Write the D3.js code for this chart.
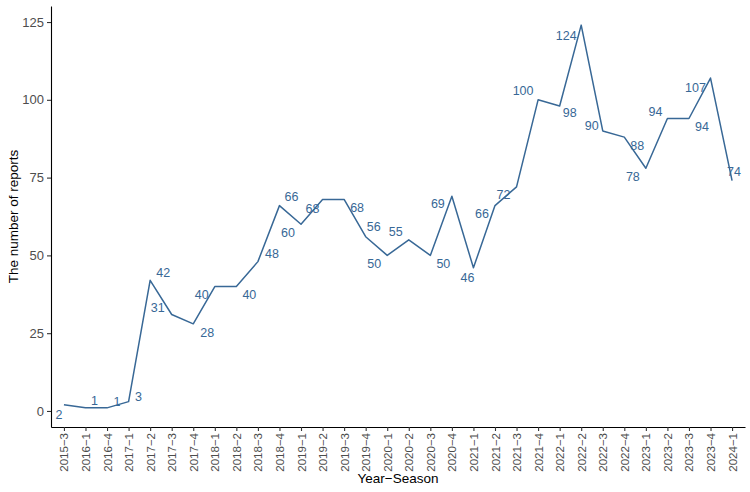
<!DOCTYPE html>
<html lang="en">
<head>
  <meta charset="UTF-8">
  <title>Reports by Year-Season</title>
  <style>
    body {
      margin: 0;
      padding: 0;
      background: #fff;
      font-family: 'Liberation Sans', Arial, sans-serif;
    }
  </style>
</head>
<body>

<script src="https://d3js.org/d3.v7.min.js"></script>

<script>
  // Categories (x axis)
  const seasons = [
    '2015-3', '2016-1', '2016-4', '2017-1', '2017-2', '2017-3', '2017-4', '2018-1',
    '2018-2', '2018-3', '2018-4', '2019-1', '2019-2', '2019-3', '2019-4', '2020-1',
    '2020-2', '2020-3', '2020-4', '2021-1', '2021-2', '2021-3', '2021-4', '2022-1',
    '2022-2', '2022-3', '2022-4', '2023-1', '2023-2', '2023-3', '2023-4', '2024-1'
  ];

  // Number of reports per season
  const reports = [
    2, 1, 1, 3, 42, 31, 28, 40,
    40, 48, 66, 60, 68, 68, 56, 50,
    55, 50, 69, 46, 66, 72, 100, 98,
    124, 90, 88, 78, 94, 94, 107, 74
  ];

  // Y tick values
  const yTicks = [0, 25, 50, 75, 100, 125];

  // Where each value label sits relative to its point (repel-like nudges)
  const labelNudge = [
    [-5, 10], [9, -7], [10, -6], [10, -5], [13, -8], [-14, -7], [14, 9], [-13, 8],
    [13, 8], [14, -8], [12, -9], [-13, 8], [-10, 9], [13, 8], [8, -10], [-13, 8],
    [-13, -8], [13, 8], [-14, 7], [-6, 10], [-13, 8], [-13, 8], [-15, -9], [10, 7],
    [-15, 10], [-11, -5], [13, 8], [-13, 8], [-12, -7], [13, 8], [-15, 10], [2, -9]
  ];

  const width = 750, height = 492;
  const mLeft = 51, mRight = 745, mTop = 6, mBottom = 427;
  const lineColor = '#386896';

  const svg = d3.select('body').append('svg')
    .attr('width', width)
    .attr('height', height);

  // ggplot-style discrete expansion of 0.6 on each side
  const x = d3.scaleLinear()
    .domain([0.4, seasons.length + 0.6])
    .range([mLeft, mRight]);

  const yMin = d3.min(reports), yMax = d3.max(reports);
  const pad = (yMax - yMin) * 0.05;
  const y = d3.scaleLinear()
    .domain([yMin - pad, yMax + pad])
    .range([mBottom, mTop]);

  const data = seasons.map((s, i) => ({ season: s, value: reports[i], idx: i + 1 }));

  // Y axis
  const yAxis = svg.append('g')
    .attr('transform', `translate(${mLeft},0)`)
    .call(d3.axisLeft(y).tickValues(yTicks).tickSize(4).tickPadding(3).tickSizeOuter(0));
  yAxis.select('.domain').attr('stroke', '#000').attr('stroke-width', 1.1);
  yAxis.selectAll('.tick line').attr('stroke', '#333').attr('stroke-width', 1.1);
  yAxis.selectAll('.tick text')
    .attr('fill', '#4d4d4d')
    .style('font-size', '13px')
    .style('font-family', "'Liberation Sans', Arial, sans-serif");

  // X axis
  const xAxis = svg.append('g')
    .attr('transform', `translate(0,${mBottom})`)
    .call(d3.axisBottom(x)
      .tickValues(data.map(d => d.idx))
      .tickFormat(i => seasons[i - 1].replace('-', '\u2212'))
      .tickSize(4).tickSizeOuter(0));
  xAxis.select('.domain').attr('stroke', '#000').attr('stroke-width', 1.1);
  xAxis.selectAll('.tick line').attr('stroke', '#333').attr('stroke-width', 1.1);
  xAxis.selectAll('.tick text')
    .attr('fill', '#4d4d4d')
    .style('font-size', '11.5px')
    .style('font-family', "'Liberation Sans', Arial, sans-serif")
    .attr('text-anchor', 'end')
    .attr('transform', 'rotate(-90)')
    .attr('x', -6)
    .attr('y', 0)
    .attr('dy', '0.35em');

  // Line
  svg.append('path')
    .datum(data)
    .attr('fill', 'none')
    .attr('stroke', lineColor)
    .attr('stroke-width', 1.5)
    .attr('stroke-linejoin', 'round')
    .attr('d', d3.line().x(d => x(d.idx)).y(d => y(d.value)));

  // Value labels
  svg.append('g')
    .selectAll('text')
    .data(data)
    .enter().append('text')
    .attr('x', (d, i) => x(d.idx) + labelNudge[i][0])
    .attr('y', (d, i) => y(d.value) + labelNudge[i][1])
    .attr('dy', '0.35em')
    .attr('text-anchor', 'middle')
    .attr('fill', lineColor)
    .style('font-size', '12.5px')
    .text(d => d.value);

  // Axis titles
  svg.append('text')
    .attr('x', (mLeft + mRight) / 2)
    .attr('y', 483)
    .attr('text-anchor', 'middle')
    .style('font-size', '13.5px')
    .text('Year\u2212Season');

  svg.append('text')
    .attr('transform', `translate(18,${(mTop + mBottom) / 2}) rotate(-90)`)
    .attr('text-anchor', 'middle')
    .style('font-size', '13.5px')
    .text('The number of reports');
</script>

</body>
</html>
